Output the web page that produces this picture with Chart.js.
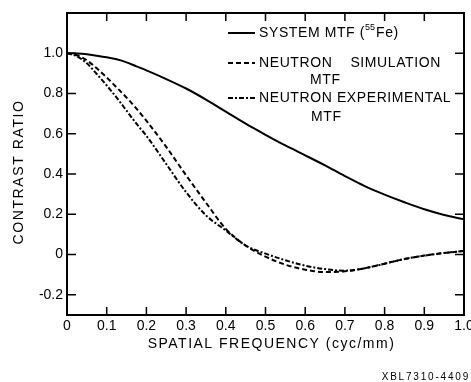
<!DOCTYPE html>
<html>
<head>
<meta charset="utf-8">
<script src="https://cdn.jsdelivr.net/npm/chart.js@4.4.1/dist/chart.umd.min.js"></script>
<style>
    html, body { margin: 0; padding: 0; background: #fff; }
    #wrap { width: 471px; height: 382px; position: relative; }
</style>
</head>
<body>
<div id="wrap"><canvas id="mtfChart"></canvas></div>
<script>
var freq = [0, 0.025, 0.05, 0.075, 0.1, 0.125, 0.15, 0.175, 0.2, 0.25, 0.3, 0.35, 0.4, 0.45, 0.5, 0.55, 0.6, 0.65, 0.7, 0.75, 0.8, 0.85, 0.9, 0.95, 1.0];
var systemMtf = [1.0, 0.999, 0.995, 0.988, 0.98, 0.97, 0.955, 0.935, 0.915, 0.872, 0.825, 0.77, 0.71, 0.65, 0.595, 0.542, 0.493, 0.443, 0.39, 0.34, 0.298, 0.26, 0.225, 0.197, 0.175];
var simulationMtf = [1.0, 0.99, 0.965, 0.925, 0.88, 0.83, 0.78, 0.725, 0.665, 0.535, 0.394, 0.258, 0.128, 0.045, -0.01, -0.05, -0.075, -0.087, -0.083, -0.068, -0.045, -0.022, -0.005, 0.008, 0.018];
var experimentalMtf = [1.0, 0.985, 0.95, 0.897, 0.84, 0.78, 0.715, 0.65, 0.59, 0.45, 0.31, 0.195, 0.12, 0.045, 0.005, -0.028, -0.055, -0.072, -0.08, -0.068, -0.045, -0.022, -0.005, 0.008, 0.018];
var xTicks = [0, 0.1, 0.2, 0.3, 0.4, 0.5, 0.6, 0.7, 0.8, 0.9, 1.0];
var yTicks = [-0.2, 0, 0.2, 0.4, 0.6, 0.8, 1.0];

var FONT = '"Liberation Sans", Arial, sans-serif';

function pts(ys) {
    return freq.map(function (f, i) { return { x: f, y: ys[i] }; });
}

function fmt(v) {
    if (Math.abs(v) < 1e-9) return '0';
    return (v < 0 ? '-' : '') + Math.abs(v).toFixed(1);
}

// frame, inward ticks, axis titles and legend
var decor = {
    id: 'decor',
    afterDraw: function (chart) {
        var ctx = chart.ctx, a = chart.chartArea;
        var xs = chart.scales.x, ys = chart.scales.y;
        ctx.save();
        ctx.strokeStyle = '#000';
        ctx.fillStyle = '#000';
        ctx.lineWidth = 2;
        ctx.strokeRect(a.left, a.top, a.right - a.left, a.bottom - a.top);

        ctx.lineWidth = 1.5;
        ctx.beginPath();
        xTicks.forEach(function (v) {
            var px = xs.getPixelForValue(v);
            ctx.moveTo(px, a.bottom); ctx.lineTo(px, a.bottom - 8);
            ctx.moveTo(px, a.top); ctx.lineTo(px, a.top + 8);
        });
        yTicks.forEach(function (v) {
            var py = ys.getPixelForValue(v);
            ctx.moveTo(a.left, py); ctx.lineTo(a.left + 9, py);
            ctx.moveTo(a.right, py); ctx.lineTo(a.right - 9, py);
        });
        ctx.stroke();

        // axis titles
        ctx.font = '14px ' + FONT;
        ctx.letterSpacing = '1.5px';
        ctx.textAlign = 'center';
        ctx.textBaseline = 'middle';
        ctx.fillText('SPATIAL FREQUENCY (cyc/mm)', (a.left + a.right) / 2 + 6, a.bottom + 29);
        ctx.save();
        ctx.translate(19, (a.top + a.bottom) / 2 + 8);
        ctx.rotate(-Math.PI / 2);
        ctx.letterSpacing = '1.6px';
        ctx.fillText('CONTRAST RATIO', 0, 0);
        ctx.restore();

        // legend
        var lx0 = a.left + 161, lx1 = a.left + 188, tx = a.left + 192;
        var rows = [
            { y: a.top + 20, dash: [] },
            { y: a.top + 50, dash: [5, 3] },
            { y: a.top + 85, dash: [5, 2, 2, 2] }
        ];
        ctx.lineWidth = 2;
        rows.forEach(function (r) {
            ctx.setLineDash(r.dash);
            ctx.beginPath();
            ctx.moveTo(lx0, r.y); ctx.lineTo(lx1, r.y);
            ctx.stroke();
        });
        ctx.setLineDash([]);
        ctx.textAlign = 'left';
        ctx.letterSpacing = '0.6px';
        var s1 = 'SYSTEM MTF (';
        ctx.fillText(s1, tx, rows[0].y);
        var w1 = ctx.measureText(s1).width;
        ctx.font = '9px ' + FONT;
        ctx.letterSpacing = '0px';
        ctx.fillText('55', tx + w1, rows[0].y - 5);
        var w2 = ctx.measureText('55').width + 1;
        ctx.font = '14px ' + FONT;
        ctx.letterSpacing = '0.6px';
        ctx.fillText('Fe)', tx + w1 + w2, rows[0].y);
        ctx.fillText('NEUTRON    SIMULATION', tx, rows[1].y);
        ctx.fillText('MTF', a.left + 243, a.top + 67);
        ctx.fillText('NEUTRON EXPERIMENTAL', tx, rows[2].y);
        ctx.fillText('MTF', a.left + 244, a.top + 104);

        ctx.font = '10px ' + FONT;
        ctx.letterSpacing = '1.8px';
        ctx.textAlign = 'right';
        ctx.fillText('XBL7310-4409', chart.width - 1, chart.height - 5);
        ctx.restore();
    }
};

new Chart(document.getElementById('mtfChart').getContext('2d'), {
    type: 'line',
    data: {
        datasets: [{
            label: 'SYSTEM MTF (55Fe)',
            data: pts(systemMtf),
            borderColor: '#000',
            borderWidth: 2
        }, {
            label: 'NEUTRON SIMULATION MTF',
            data: pts(simulationMtf),
            borderColor: '#000',
            borderWidth: 2,
            borderDash: [5, 3]
        }, {
            label: 'NEUTRON EXPERIMENTAL MTF',
            data: pts(experimentalMtf),
            borderColor: '#000',
            borderWidth: 2,
            borderDash: [5, 2, 2, 2]
        }]
    },
    options: {
        responsive: true,
        maintainAspectRatio: false,
        animation: false,
        devicePixelRatio: 1,
        layout: { padding: { left: 0, right: 7, top: 13, bottom: 0 } },
        elements: {
            point: { radius: 0 },
            line: { cubicInterpolationMode: 'monotone', fill: false }
        },
        plugins: { legend: { display: false }, tooltip: { enabled: false } },
        scales: {
            x: {
                type: 'linear',
                min: 0,
                max: 1,
                grid: { display: false, drawTicks: false },
                border: { display: false },
                afterBuildTicks: function (s) { s.ticks = xTicks.map(function (v) { return { value: v }; }); },
                afterFit: function (s) { s.height = 67; s.paddingLeft = 0; s.paddingRight = 0; },
                ticks: {
                    autoSkip: false,
                    maxRotation: 0,
                    padding: 3,
                    color: '#000',
                    font: { family: FONT, size: 14 },
                    callback: function (v) { return fmt(v); }
                }
            },
            y: {
                min: -0.3,
                max: 1.2,
                grid: { display: false, drawTicks: false },
                border: { display: false },
                afterBuildTicks: function (s) { s.ticks = yTicks.map(function (v) { return { value: v }; }); },
                afterFit: function (s) { s.width = 67; s.paddingTop = 0; s.paddingBottom = 0; },
                ticks: {
                    autoSkip: false,
                    padding: 4,
                    color: '#000',
                    font: { family: FONT, size: 14 },
                    callback: function (v) { return fmt(v); }
                }
            }
        }
    },
    plugins: [decor]
});
</script>
</body>
</html>
